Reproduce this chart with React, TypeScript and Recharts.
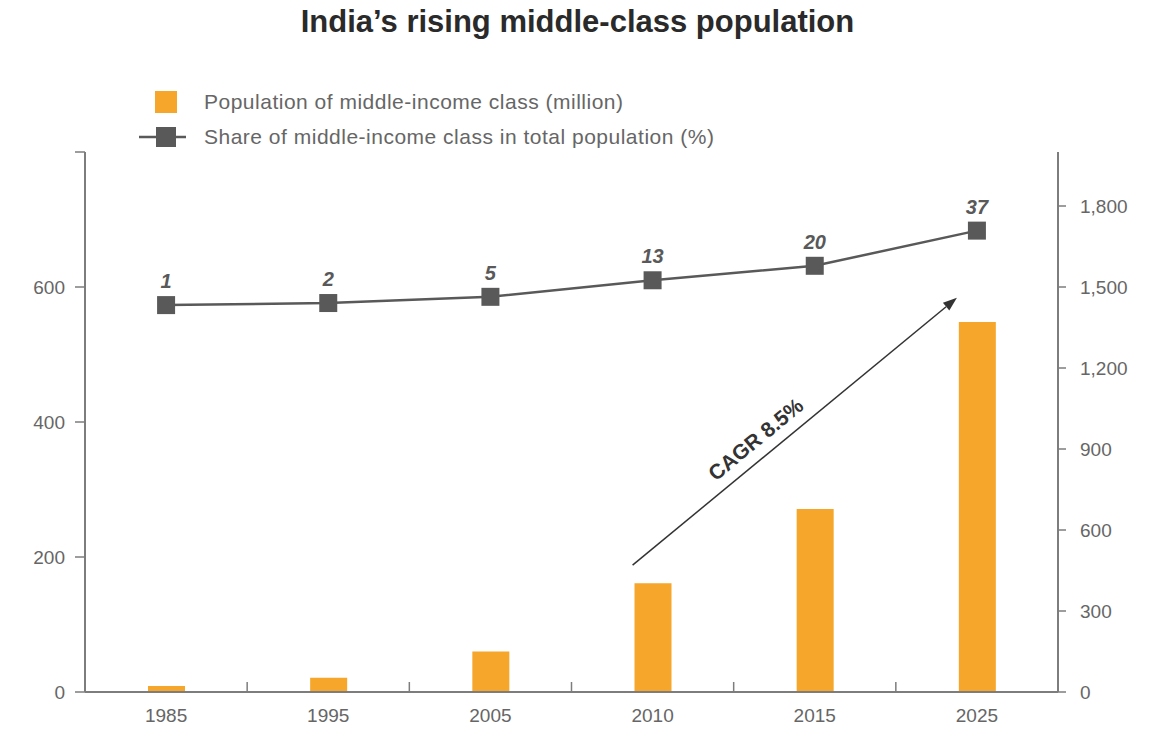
import React from 'react'
import {
  ComposedChart,
  Bar,
  Line,
  XAxis,
  YAxis,
  Legend,
  LabelList,
  ReferenceLine
} from 'recharts'

const YEARS = ['1985', '1995', '2005', '2010', '2015', '2025']
// middle-income class population, million (left axis)
const POPULATION = [9, 21, 60, 161, 271, 548]
// share of total population, %
const SHARE = [1, 2, 5, 13, 20, 37]
const LEFT_TICKS = [0, 200, 400, 600, 800]
const RIGHT_TICKS = [0, 300, 600, 900, 1200, 1500, 1800]
const CAGR_LABEL = 'CAGR 8.5%'
const CAGR_FROM = { x: '2010', y: 188 }
const CAGR_TO = { x: '2025', y: 584 }

const data = YEARS.map((year, i) => ({
  year,
  population: POPULATION[i],
  share: SHARE[i]
}))

const ORANGE = '#F6A62A'
const DARK = '#595959'
const AXIS = '#7d7d7d'
const TEXT = '#666'

const YearTick = (props: any) => {
  const { x, y, payload, index } = props
  const half = payload && payload.offset ? payload.offset : 81
  const axisY = y - 17
  return (
    <g>
      <text x={x} y={y} dy="0.71em" textAnchor="middle" fill={TEXT} fontSize={19}>
        {payload.value}
      </text>
      {index < YEARS.length - 1 && (
        <line
          x1={x + half}
          x2={x + half}
          y1={axisY}
          y2={axisY - 10}
          stroke={AXIS}
          strokeWidth={1.5}
        />
      )}
    </g>
  )
}

const squareDot = (props: any) => {
  const { cx, cy, index } = props
  if (cx == null || cy == null) return <g key={`d-${index}`} />
  return (
    <rect key={`d-${index}`} x={cx - 9} y={cy - 9} width={18} height={18} fill={DARK} />
  )
}

const CagrArrow = (props: any) => {
  const shift = -20
  const x1 = props.x1 + shift
  const x2 = props.x2 + shift
  const { y1, y2 } = props
  const ang = Math.atan2(y2 - y1, x2 - x1)
  const ux = Math.cos(ang)
  const uy = Math.sin(ang)
  const head = 14
  const hw = 5
  const bx = x2 - ux * head
  const by = y2 - uy * head
  // label position along the arrow, lifted above it
  const t = 175
  const lx = x1 + ux * t + uy * 19
  const ly = y1 + uy * t - ux * 19
  const deg = (ang * 180) / Math.PI
  return (
    <g>
      <line x1={x1} y1={y1} x2={bx} y2={by} stroke="#333" strokeWidth={1.5} />
      <polygon
        points={`${x2},${y2} ${bx - uy * hw},${by + ux * hw} ${bx + uy * hw},${by - ux * hw}`}
        fill="#333"
      />
      <text
        x={lx}
        y={ly}
        transform={`rotate(${deg} ${lx} ${ly})`}
        textAnchor="middle"
        dominantBaseline="central"
        fontSize={21}
        fontWeight="bold"
        fill="#333"
      >
        {CAGR_LABEL}
      </text>
    </g>
  )
}

const renderLegend = () => (
  <div style={{ fontSize: 21, color: TEXT, lineHeight: '24px', letterSpacing: 0.5 }}>
    <div style={{ display: 'flex', alignItems: 'center', height: 35 }}>
      <svg width={60} height={24}>
        <rect x={19} y={1} width={22} height={22} fill={ORANGE} />
      </svg>
      <span style={{ marginLeft: 8 }}>Population of middle-income class (million)</span>
    </div>
    <div style={{ display: 'flex', alignItems: 'center', height: 35 }}>
      <svg width={60} height={24}>
        <line x1={3} x2={50} y1={12} y2={12} stroke={DARK} strokeWidth={2.5} />
        <rect x={20} y={2} width={20} height={20} fill={DARK} />
      </svg>
      <span style={{ marginLeft: 8 }}>Share of middle-income class in total population (%)</span>
    </div>
  </div>
)

export default function App() {
  return (
    <div
      style={{
        position: 'absolute',
        top: 0,
        left: 0,
        width: 1155,
        height: 729,
        background: '#fff',
        fontFamily: '"Liberation Sans", Arial, sans-serif'
      }}
    >
      <div
        style={{
          position: 'absolute',
          top: 3,
          left: 0,
          width: 1155,
          textAlign: 'center',
          fontSize: 31,
          fontWeight: 'bold',
          color: '#2a2a2a',
          lineHeight: '38px'
        }}
      >
        India’s rising middle-class population
      </div>
      <ComposedChart
        width={1155}
        height={729}
        data={data}
        margin={{ top: 152, right: 17, bottom: 7, left: 25 }}
      >
        <XAxis
          dataKey="year"
          height={30}
          axisLine={{ stroke: AXIS, strokeWidth: 2 }}
          tickLine={false}
          tickSize={0}
          tickMargin={17}
          tick={<YearTick />}
          interval={0}
        />
        <YAxis
          yAxisId="left"
          width={60}
          domain={[0, 800]}
          ticks={LEFT_TICKS}
          tickFormatter={(v: number) => (v === 800 ? '' : String(v))}
          axisLine={{ stroke: AXIS, strokeWidth: 2 }}
          tickLine={{ stroke: AXIS, strokeWidth: 1.5 }}
          tickSize={10}
          tickMargin={10}
          tick={{ fill: TEXT, fontSize: 19 }}
        />
        <YAxis
          yAxisId="right"
          orientation="right"
          width={80}
          domain={[0, 2000]}
          ticks={RIGHT_TICKS}
          allowDataOverflow
          tickFormatter={(v: number) => v.toLocaleString('en-US')}
          axisLine={{ stroke: AXIS, strokeWidth: 2 }}
          tickLine={{ stroke: AXIS, strokeWidth: 1.5 }}
          tickSize={8}
          tickMargin={14}
          tick={{ fill: TEXT, fontSize: 19, textAnchor: 'start' }}
        />
        <YAxis yAxisId="share" hide domain={[-186, 75]} allowDataOverflow />
        <Legend
          layout="vertical"
          align="center"
          verticalAlign="middle"
          content={renderLegend}
          wrapperStyle={{ left: 136, top: 84, width: 'auto', height: 'auto' }}
        />
        <Bar
          yAxisId="left"
          dataKey="population"
          fill={ORANGE}
          barSize={37}
          isAnimationActive={false}
        />
        <Line
          yAxisId="share"
          dataKey="share"
          stroke={DARK}
          strokeWidth={2.5}
          dot={squareDot}
          activeDot={false}
          isAnimationActive={false}
        >
          <LabelList
            dataKey="share"
            position="top"
            offset={17}
            fill={DARK}
            fontSize={20}
            fontWeight="bold"
            fontStyle="italic"
          />
        </Line>
        <ReferenceLine
          yAxisId="left"
          segment={[CAGR_FROM, CAGR_TO]}
          ifOverflow="visible"
          shape={CagrArrow}
        />
      </ComposedChart>
    </div>
  )
}
